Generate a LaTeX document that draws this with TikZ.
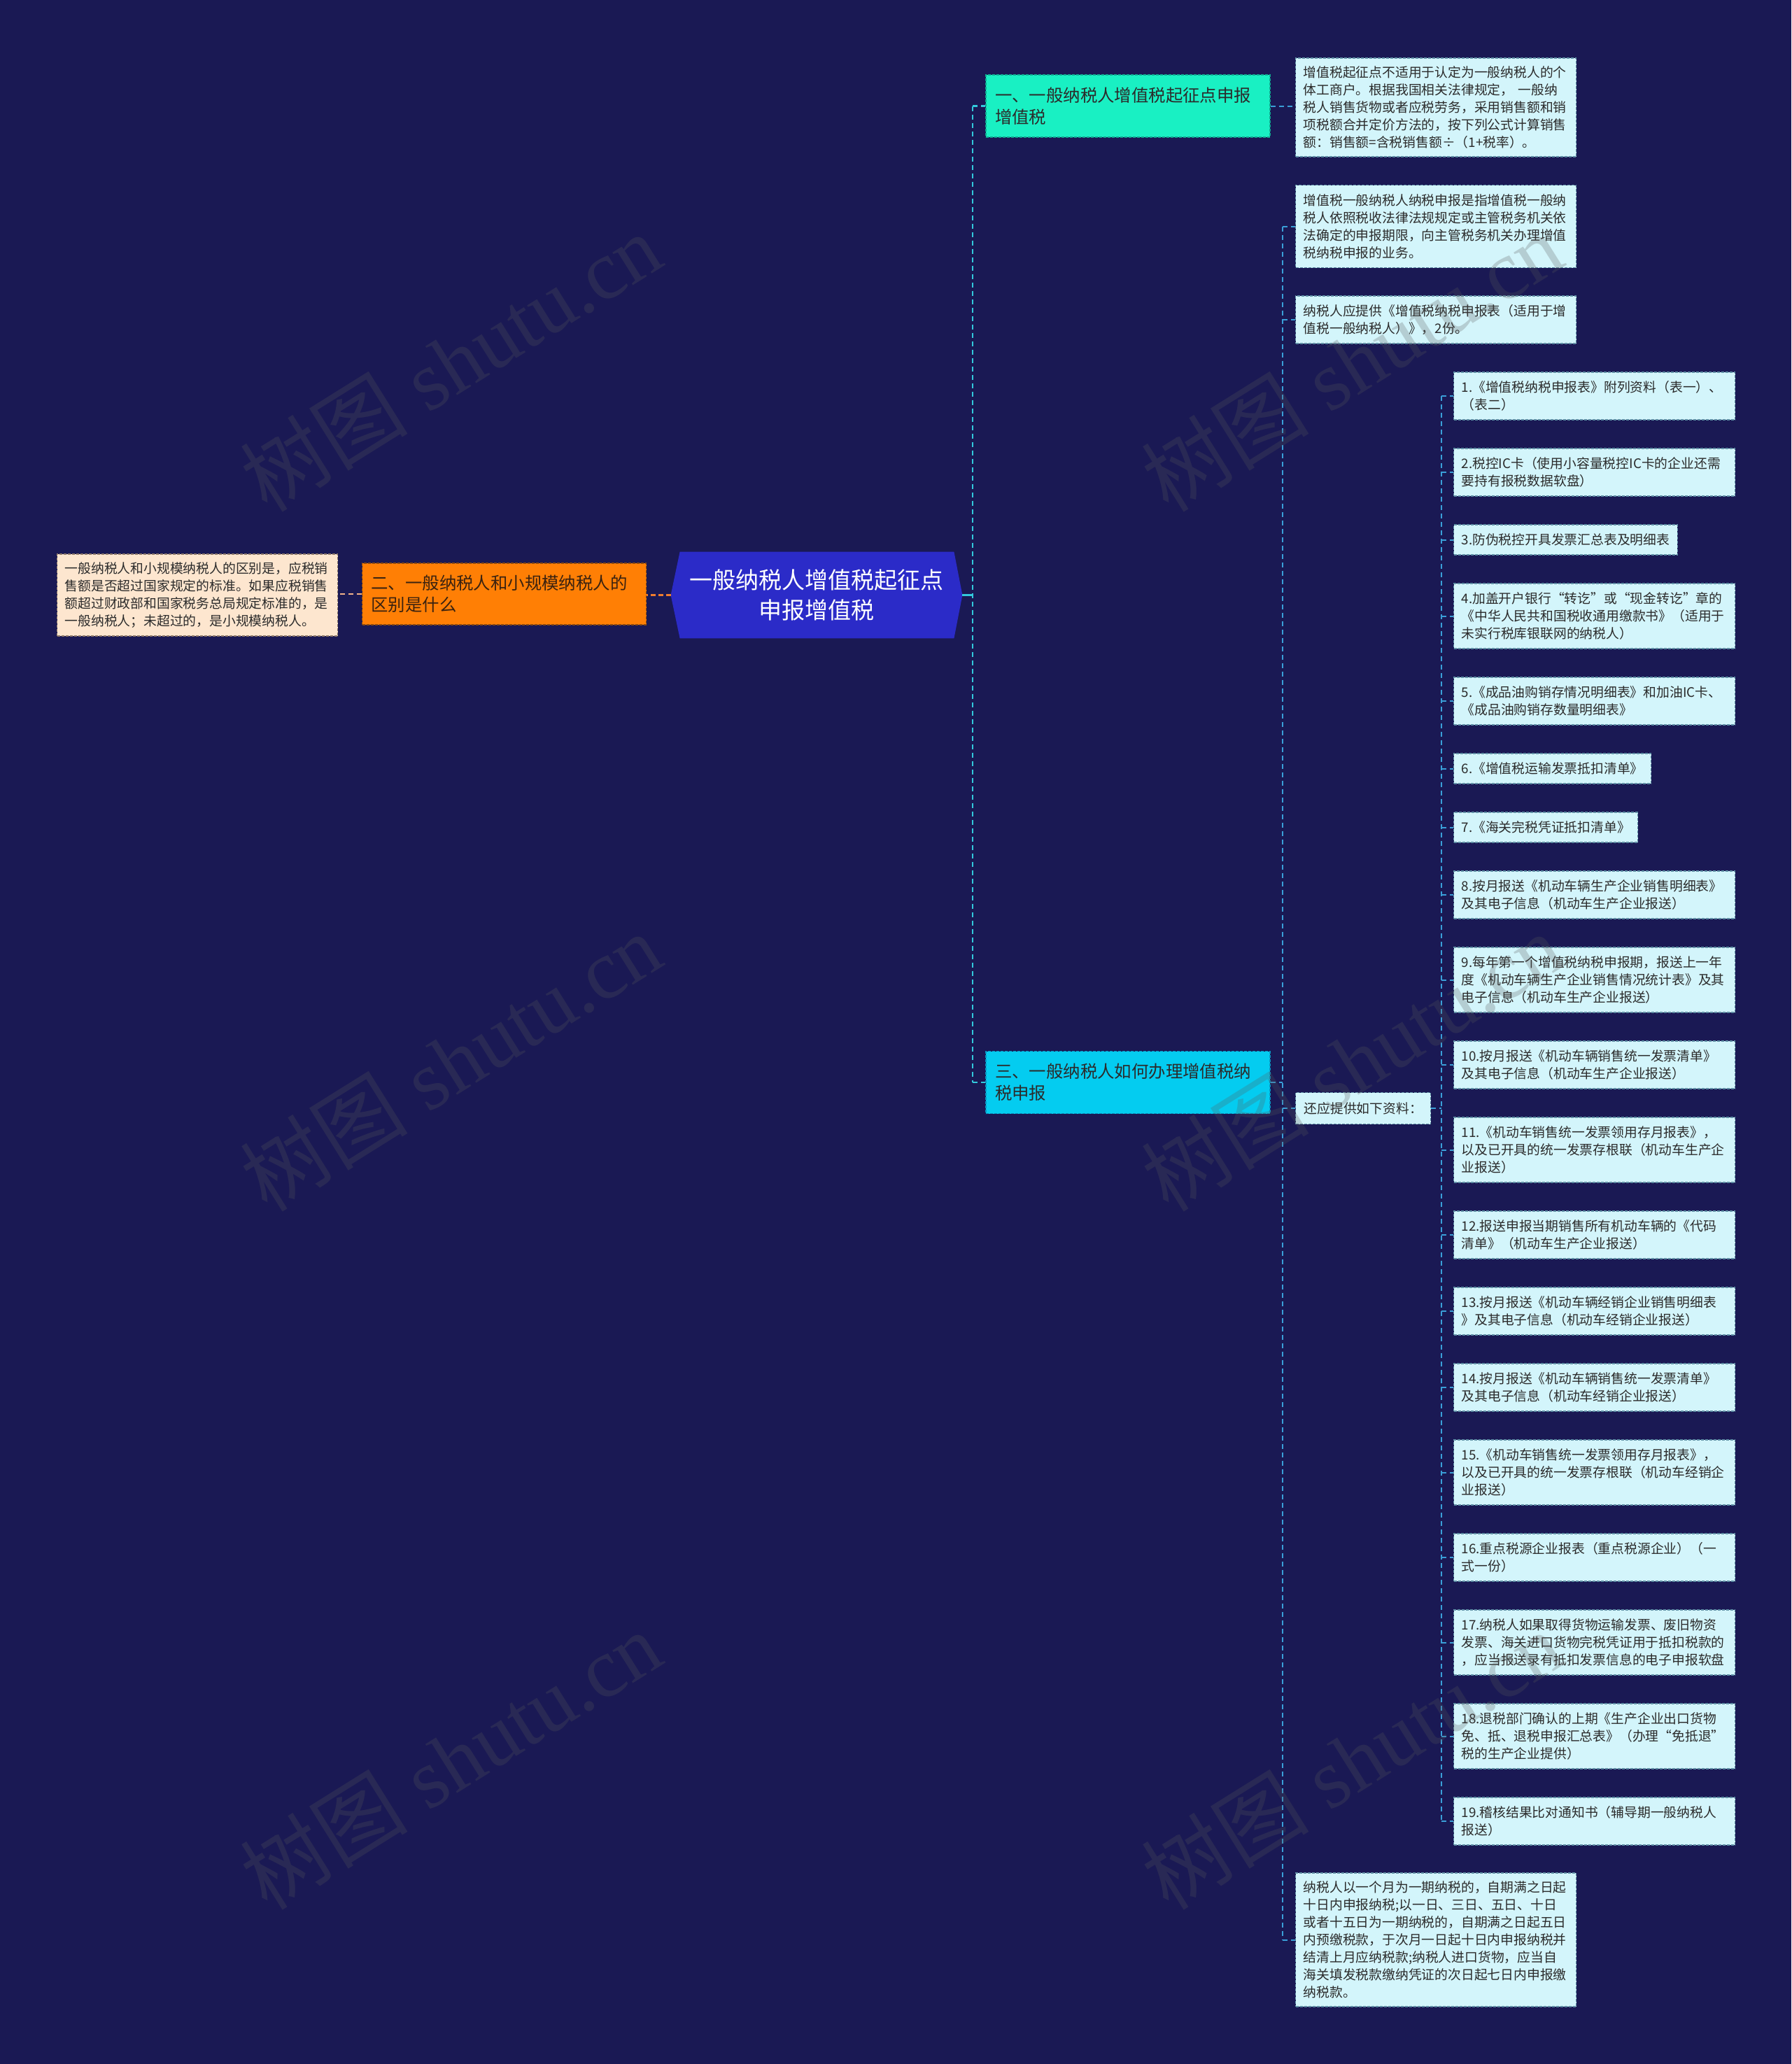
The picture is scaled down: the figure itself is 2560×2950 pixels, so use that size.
\documentclass[tikz,border=0pt]{standalone}
\usepackage{fontspec}
\setmainfont{Noto Sans CJK SC}
\newfontfamily\wmfont{Liberation Serif}
\newfontfamily\cjkfont{Noto Sans CJK SC}
\usetikzlibrary{calc}
\definecolor{bgc}{HTML}{1A1954}
\definecolor{rootfill}{HTML}{2B2BC8}
\definecolor{onefill}{HTML}{19F0C3}
\definecolor{oneborder}{HTML}{0FA88F}
\definecolor{threefill}{HTML}{04CCF0}
\definecolor{threeborder}{HTML}{0A95C0}
\definecolor{twofill}{HTML}{FF7F05}
\definecolor{twoborder}{HTML}{8A4A10}
\definecolor{twotext}{HTML}{3A2210}
\definecolor{leaffill}{HTML}{D3F5FB}
\definecolor{leafborder}{HTML}{5F8FA5}
\definecolor{peachfill}{HTML}{FDE6CF}
\definecolor{peachborder}{HTML}{8F7A6A}
\definecolor{mainline}{HTML}{33C9DC}
\definecolor{subline}{HTML}{3A9FD8}
\definecolor{orangeline}{HTML}{F07D2E}
\definecolor{peachline}{HTML}{F3B48A}
\definecolor{darktext}{HTML}{2B2B2B}
\pgfdeclarelayer{bglayer}
\pgfsetlayers{bglayer,main}
\tikzset{
  rootnode/.style={minimum width=208pt, minimum height=61.5pt, inner sep=0pt,
    align=center, text=white, font=\fontsize{16.5}{21.5}\selectfont},
  branchnode/.style={draw, line width=0.7pt, dash pattern=on 2pt off 1pt,
    minimum height=44.5pt, text width=190pt, inner xsep=6.5pt, inner ysep=2pt,
    align=left, font=\fontsize{12.2}{15.5}\selectfont},
  leafbox/.style={draw=leafborder, fill=leaffill, text=darktext, line width=0.6pt,
    dash pattern=on 2pt off 1pt, inner xsep=5.5pt, inner ysep=2pt, align=left,
    anchor=west, font=\fontsize{9.4}{12.5}\selectfont},
  wide/.style={text width=190pt},
  mainconn/.style={mainline, line width=1.2pt, dash pattern=on 3.5pt off 2.5pt},
  subconn/.style={subline, line width=1pt, dash pattern=on 3.5pt off 2.5pt},
  wmark/.style={text=black!65, text opacity=0.25, rotate=32,
    font=\wmfont\fontsize{60}{60}\selectfont}
}
\begin{document}
\begin{tikzpicture}[x=0.5pt,y=-0.5pt]
\useasboundingbox (0,0) rectangle (2560,2950);
\begin{pgfonlayer}{bglayer}
\fill[bgc] (0,0) rectangle (2560,2950);
\end{pgfonlayer}

% root
\node[rootnode] (root) at (1167,850.5) {一般纳税人增值税起征点\\申报增值税};
\begin{pgfonlayer}{bglayer}
\fill[rootfill] ($(root.north west)+(13,0)$) -- ($(root.north east)+(-12,0)$) -- (root.east)
  -- ($(root.south east)+(-12,0)$) -- ($(root.south west)+(13,0)$) -- (root.west) -- cycle;
\end{pgfonlayer}

% branches
\node[branchnode, fill=onefill, draw=oneborder, text=darktext] (n1) at (1612,151.5) {一、一般纳税人增值税起征点申报\\增值税};
\node[branchnode, fill=threefill, draw=threeborder, text=darktext] (n3) at (1612,1547) {三、一般纳税人如何办理增值税纳\\税申报};
\node[branchnode, fill=twofill, draw=twoborder, text=twotext, minimum height=44pt] (n2) at (720.5,849) {二、一般纳税人和小规模纳税人的\\区别是什么};

% left leaf
\node[leafbox, text width=189.5pt, minimum height=58.5pt, fill=peachfill, draw=peachborder] (ll) at (81,850.5) {一般纳税人和小规模纳税人的区别是，应税销\\售额是否超过国家规定的标准。如果应税销售\\额超过财政部和国家税务总局规定标准的，是\\一般纳税人；未超过的，是小规模纳税人。};

% branch one leaf
\node[leafbox, text width=189.5pt, minimum height=70.5pt] (a1) at (1851,153.5) {增值税起征点不适用于认定为一般纳税人的个\\体工商户。根据我国相关法律规定，~一般纳\\税人销售货物或者应税劳务，采用销售额和销\\项税额合并定价方法的，按下列公式计算销售\\额：销售额=含税销售额÷（1+税率）。};

% branch three leaves
\node[leafbox, text width=189.5pt, minimum height=59pt] (b1) at (1851,323.5) {增值税一般纳税人纳税申报是指增值税一般纳\\税人依照税收法律法规规定或主管税务机关依\\法确定的申报期限，向主管税务机关办理增值\\税纳税申报的业务。};
\node[leafbox, text width=189.5pt, minimum height=34pt] (b2) at (1851,457) {纳税人应提供《增值税纳税申报表（适用于增\\值税一般纳税人）》，2份。};
\node[leafbox, minimum height=22.5pt, inner xsep=6pt] (h) at (1851,1584) {还应提供如下资料：};
\node[leafbox, text width=189.5pt, minimum height=95.5pt] (bt) at (1851,2772.5) {纳税人以一个月为一期纳税的，自期满之日起\\十日内申报纳税;以一日、三日、五日、十日\\或者十五日为一期纳税的，自期满之日起五日\\内预缴税款，于次月一日起十日内申报纳税并\\结清上月应纳税款;纳税人进口货物，应当自\\海关填发税款缴纳凭证的次日起七日内申报缴\\纳税款。};

% items
\node[leafbox, wide, minimum height=34pt] (i1) at (2077,566) {1.《增值税纳税申报表》附列资料（表一）、\\（表二）};
\node[leafbox, wide, minimum height=34pt] (i2) at (2077,675) {2.税控IC卡（使用小容量税控IC卡的企业还需\\要持有报税数据软盘）};
\node[leafbox, minimum height=21.5pt] (i3) at (2077,771.5) {3.防伪税控开具发票汇总表及明细表};
\node[leafbox, wide, minimum height=46.5pt] (i4) at (2077,880.5) {4.加盖开户银行“转讫”或“现金转讫”章的\\《中华人民共和国税收通用缴款书》（适用于\\未实行税库银联网的纳税人）};
\node[leafbox, wide, minimum height=34pt] (i5) at (2077,1002) {5.《成品油购销存情况明细表》和加油IC卡、\\《成品油购销存数量明细表》};
\node[leafbox, minimum height=21.5pt] (i6) at (2077,1098.5) {6.《增值税运输发票抵扣清单》};
\node[leafbox, minimum height=21.5pt] (i7) at (2077,1182.5) {7.《海关完税凭证抵扣清单》};
\node[leafbox, wide, minimum height=34pt] (i8) at (2077,1279) {8.按月报送《机动车辆生产企业销售明细表》\\及其电子信息（机动车生产企业报送）};
\node[leafbox, wide, minimum height=46.5pt] (i9) at (2077,1400.5) {9.每年第一个增值税纳税申报期，报送上一年\\度《机动车辆生产企业销售情况统计表》及其\\电子信息（机动车生产企业报送）};
\node[leafbox, wide, minimum height=34pt] (i10) at (2077,1522) {10.按月报送《机动车辆销售统一发票清单》\\及其电子信息（机动车生产企业报送）};
\node[leafbox, wide, minimum height=46.5pt] (i11) at (2077,1643.5) {11.《机动车销售统一发票领用存月报表》，\\以及已开具的统一发票存根联（机动车生产企\\业报送）};
\node[leafbox, wide, minimum height=34pt] (i12) at (2077,1765) {12.报送申报当期销售所有机动车辆的《代码\\清单》（机动车生产企业报送）};
\node[leafbox, wide, minimum height=34pt] (i13) at (2077,1874) {13.按月报送《机动车辆经销企业销售明细表\\》及其电子信息（机动车经销企业报送）};
\node[leafbox, wide, minimum height=34pt] (i14) at (2077,1983) {14.按月报送《机动车辆销售统一发票清单》\\及其电子信息（机动车经销企业报送）};
\node[leafbox, wide, minimum height=46.5pt] (i15) at (2077,2104.5) {15.《机动车销售统一发票领用存月报表》，\\以及已开具的统一发票存根联（机动车经销企\\业报送）};
\node[leafbox, wide, minimum height=34pt] (i16) at (2077,2226) {16.重点税源企业报表（重点税源企业）（一\\式一份）};
\node[leafbox, wide, minimum height=46.5pt] (i17) at (2077,2347.5) {17.纳税人如果取得货物运输发票、废旧物资\\发票、海关进口货物完税凭证用于抵扣税款的\\，应当报送录有抵扣发票信息的电子申报软盘};
\node[leafbox, wide, minimum height=46.5pt] (i18) at (2077,2481.5) {18.退税部门确认的上期《生产企业出口货物\\免、抵、退税申报汇总表》（办理“免抵退”\\税的生产企业提供）};
\node[leafbox, wide, minimum height=34pt] (i19) at (2077,2603) {19.稽核结果比对通知书（辅导期一般纳税人\\报送）};

% connectors: left
\draw[orangeline, line width=1.2pt, dash pattern=on 3.5pt off 2pt] (root.west) -- (root.west -| n2.east);
\draw[peachline, line width=1pt, dash pattern=on 3.5pt off 2.5pt] (n2.west) -- (n2.west -| ll.east);

% connectors: main right spine
\coordinate (s1) at (1390,850.5);
\draw[mainline, line width=1.4pt] (root.east) -- (s1);
\draw[mainconn] (s1 |- n1.west) -- (s1 |- n3.west);
\draw[mainconn] (s1 |- n1.west) -- (n1.west);
\draw[mainconn] (s1 |- n3.west) -- (n3.west);

% branch one
\draw[subconn] (n1.east) -- (n1.east -| a1.west);

% branch three
\coordinate (s3) at (1833,1547);
\draw[subconn] (n3.east) -- (s3);
\draw[subconn] (s3 |- b1.west) -- (s3 |- bt.west);
\foreach \k in {b1,b2,h,bt} \draw[subconn] (s3 |- \k.west) -- (\k.west);

% items spine
\coordinate (s4) at (2060,1584);
\draw[subconn] (h.east) -- (s4);
\draw[subconn] (s4 |- i1.west) -- (s4 |- i19.west);
\foreach \k in {1,...,19} \draw[subconn] (s4 |- i\k.west) -- (i\k.west);

% watermarks
\node[wmark] (wm1) at (644,517) {{\cjkfont 树图} shutu.cn};
\node[wmark] (wm2) at (644,1517) {{\cjkfont 树图} shutu.cn};
\node[wmark] (wm3) at (644,2515) {{\cjkfont 树图} shutu.cn};
\node[wmark] (wm4) at (1932,517) {{\cjkfont 树图} shutu.cn};
\node[wmark] (wm5) at (1932,1517) {{\cjkfont 树图} shutu.cn};
\node[wmark] (wm6) at (1932,2515) {{\cjkfont 树图} shutu.cn};
\end{tikzpicture}
\end{document}
